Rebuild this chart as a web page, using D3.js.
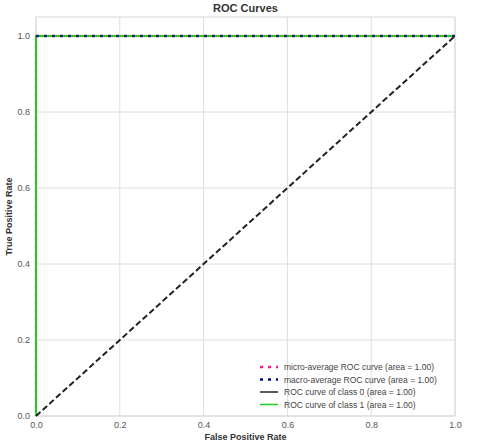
<!DOCTYPE html>
<meta charset="utf-8">
<style>
body { margin: 0; background: #fff; }
text { font-family: "Liberation Sans", Arial, sans-serif; }
.grid line { stroke: #dedede; stroke-width: 1; }
.tick text { fill: #555; font-size: 9px; }
</style>
<body>
<script src="https://d3js.org/d3.v7.min.js"></script>
<script>

// roc points per curve
var fpr = [0.0, 0.0, 1.0],
    tpr = [0.0, 1.0, 1.0];
var macroFpr = [0.0, 1.0],
    macroTpr = [1.0, 1.0];
var diagX = [0, 1],
    diagY = [0, 1];

var curves = [
  {name: "micro-average ROC curve (area = 1.00)", color: "deeppink", dash: "3,5", w: 2.5, fx: fpr, fy: tpr},
  {name: "macro-average ROC curve (area = 1.00)", color: "navy", dash: "3,5", w: 2.5, fx: macroFpr, fy: macroTpr},
  {name: "ROC curve of class 0 (area = 1.00)", color: "#222", dash: null, w: 1.5, fx: fpr, fy: tpr},
  {name: "ROC curve of class 1 (area = 1.00)", color: "#22cc22", dash: null, w: 2, fx: fpr, fy: tpr}
];

var xTicks = [0, 0.2, 0.4, 0.6, 0.8, 1.0],
    yTicks = [0, 0.2, 0.4, 0.6, 0.8, 1.0];

var width = 480, height = 446;
var margin = {top: 17, right: 25, bottom: 30, left: 36};

var svg = d3.select("body").append("svg")
    .attr("width", width)
    .attr("height", height);

var x = d3.scaleLinear().domain([0, 1]).range([margin.left, width - margin.right]);
var y = d3.scaleLinear().domain([0, 1.05]).range([height - margin.bottom, margin.top]);

// grid
var grid = svg.append("g").attr("class", "grid");
grid.selectAll(".gx").data(xTicks).enter().append("line")
    .attr("x1", d => x(d)).attr("x2", d => x(d))
    .attr("y1", y(0)).attr("y2", y(1.05));
grid.selectAll(".gy").data(yTicks).enter().append("line")
    .attr("y1", d => y(d)).attr("y2", d => y(d))
    .attr("x1", x(0)).attr("x2", x(1));

// frame
svg.append("rect")
    .attr("x", x(0)).attr("y", y(1.05))
    .attr("width", x(1) - x(0)).attr("height", y(0) - y(1.05))
    .attr("fill", "none").attr("stroke", "#d8d8d8");

svg.append("g")
    .attr("transform", "translate(0," + y(0) + ")")
    .call(d3.axisBottom(x).tickValues(xTicks).tickFormat(d3.format(".1f")).tickSize(0).tickPadding(6))
    .call(g => g.select(".domain").remove());

svg.append("g")
    .attr("transform", "translate(" + x(0) + ",0)")
    .call(d3.axisLeft(y).tickValues(yTicks).tickFormat(d3.format(".1f")).tickSize(0).tickPadding(6))
    .call(g => g.select(".domain").remove());

var line = d3.line().x(d => x(d[0])).y(d => y(d[1]));

// draw order: class 0, micro, class 1, macro on top
[[curves[2], 1], [curves[0], 0.45], [curves[3], 1], [curves[1], 0.85]].forEach(function(p) {
  var c = p[0];
  svg.append("path")
      .attr("d", line(d3.zip(c.fx, c.fy)))
      .attr("fill", "none")
      .attr("stroke", c.color)
      .attr("stroke-width", c.w)
      .attr("stroke-opacity", p[1])
      .attr("stroke-dasharray", c.dash);
});

svg.append("path")
    .attr("d", line(d3.zip(diagX, diagY)))
    .attr("fill", "none")
    .attr("stroke", "#222")
    .attr("stroke-width", 2)
    .attr("stroke-dasharray", "6,3");

// title and labels
svg.append("text")
    .attr("x", (x(0) + x(1)) / 2).attr("y", 12)
    .attr("text-anchor", "middle")
    .style("font-size", "11px").style("font-weight", "bold").attr("fill", "#333")
    .text("ROC Curves");

svg.append("text")
    .attr("x", (x(0) + x(1)) / 2).attr("y", 440)
    .attr("text-anchor", "middle")
    .style("font-size", "9px").style("font-weight", "bold").attr("fill", "#333")
    .text("False Positive Rate");

svg.append("text")
    .attr("transform", "translate(12," + (y(0) + y(1.05)) / 2 + ") rotate(-90)")
    .attr("text-anchor", "middle")
    .style("font-size", "9px").style("font-weight", "bold").attr("fill", "#333")
    .text("True Positive Rate");

// legend
var legend = svg.append("g").attr("transform", "translate(260,367)");
curves.forEach(function(c, i) {
  var g = legend.append("g").attr("transform", "translate(0," + (i * 12.5) + ")");
  g.append("line")
      .attr("x1", 0).attr("x2", 18)
      .attr("stroke", c.color)
      .attr("stroke-width", c.dash ? 2.5 : 1.5)
      .attr("stroke-dasharray", c.dash);
  g.append("text")
      .attr("x", 24).attr("y", 3)
      .style("font-size", "8.5px").attr("fill", "#444")
      .text(c.name);
});

</script>
</body>
